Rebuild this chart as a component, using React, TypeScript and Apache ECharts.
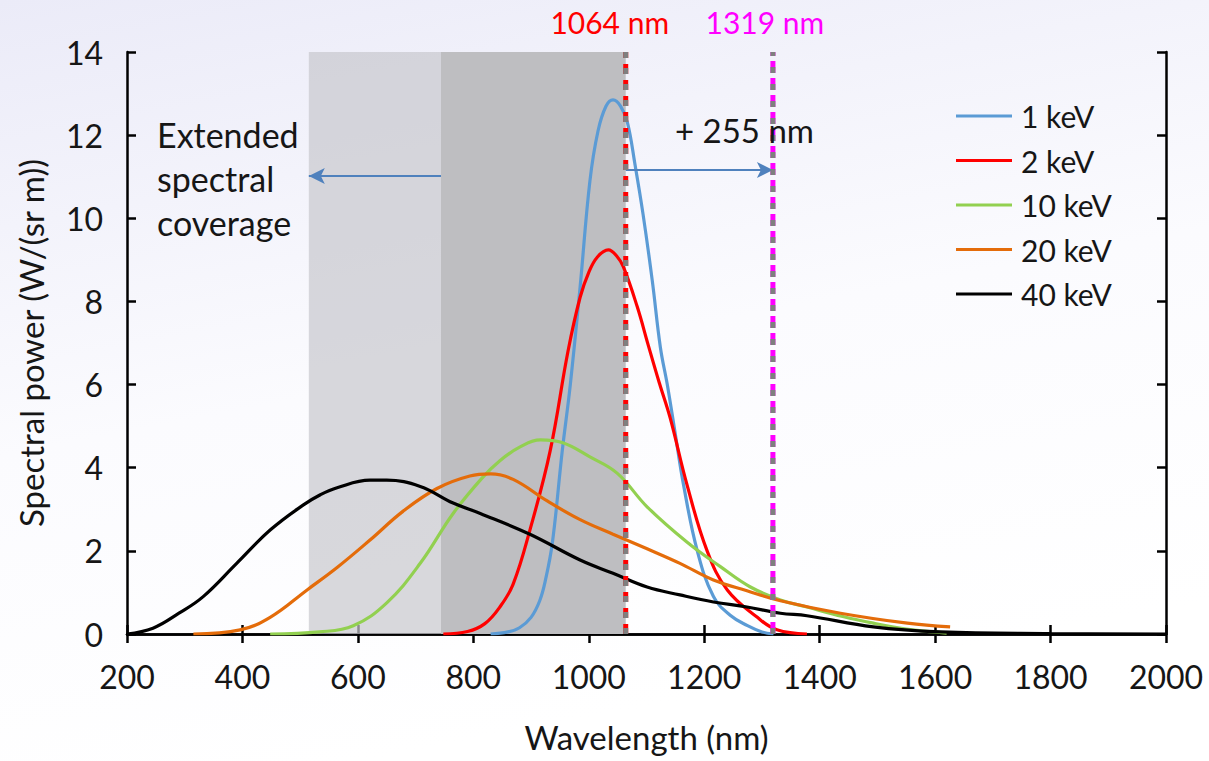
import React, { useEffect, useRef } from "react";
import * as echarts from "echarts";

// Spectral power curves, [wavelength nm, W/(sr m)]
const keV1: number[][] = [[830,0],[860,0.05],[880,0.15],[900,0.4],[915,0.8],[925,1.3],[937,2.2],[954,4.4],[968,6.0],[985,8.35],[1002,10.9],[1016,12.1],[1030,12.7],[1042,12.85],[1055,12.7],[1067,12.3],[1080,11.3],[1094,10.1],[1110,8.5],[1124,6.9],[1136,6.0],[1150,4.8],[1164,3.6],[1188,2.0],[1216,0.9],[1245,0.45],[1275,0.2],[1300,0.05],[1320,0]];
const keV2: number[][] = [[748,0],[790,0.06],[820,0.25],[846,0.65],[869,1.2],[898,2.5],[933,4.4],[964,6.8],[985,8.1],[1000,8.7],[1015,9.07],[1034,9.24],[1048,9.1],[1060,8.83],[1084,7.87],[1103,6.95],[1122,6.05],[1141,5.2],[1170,3.6],[1205,2.0],[1240,1.06],[1292,0.4],[1326,0.1],[1378,0]];
const keV10: number[][] = [[448,0],[534,0.05],[592,0.2],[650,0.75],[708,1.7],[765,2.9],[815,3.75],[846,4.17],[881,4.5],[916,4.67],[955,4.6],[1002,4.26],[1049,3.87],[1101,3.06],[1171,2.2],[1228,1.62],[1280,1.13],[1332,0.82],[1378,0.65],[1440,0.42],[1493,0.26],[1550,0.12],[1597,0.05],[1620,0.02]];
const keV20: number[][] = [[315,0],[396,0.1],[448,0.4],[512,1.06],[564,1.6],[621,2.26],[678,2.95],[737,3.5],[794,3.8],[830,3.85],[869,3.72],[928,3.2],[985,2.75],[1042,2.4],[1101,2.05],[1158,1.7],[1216,1.3],[1274,1.04],[1332,0.8],[1436,0.5],[1552,0.26],[1626,0.17]];
const keV40: number[][] = [[200,0],[245,0.14],[290,0.5],[332,0.9],[390,1.7],[448,2.5],[505,3.1],[535,3.35],[564,3.52],[621,3.7],[650,3.7],[708,3.55],[765,3.15],[812,2.9],[898,2.4],[985,1.78],[1042,1.46],[1101,1.13],[1158,0.94],[1216,0.77],[1274,0.65],[1332,0.5],[1378,0.44],[1493,0.17],[1609,0.05],[1800,0.01],[2000,0]];

const seriesNames = ["1 keV", "2 keV", "10 keV", "20 keV", "40 keV"];
const seriesColors = ["#5b9bd5", "#ff0000", "#92d050", "#e46c0a", "#000000"];
const seriesData = [keV1, keV2, keV10, keV20, keV40];

// Laser wavelength and the shifted one
const laserLine = 1064;
const shiftedLine = 1319;
const shiftLabel = "+ 255 nm";

// Shaded bands: extended coverage, then original coverage up to the laser line
const bandEdges = [515, 744, laserLine];
const coverageArrowY = 11.02;
const shiftArrowY = 11.16;

const FONT = "Lato, 'Open Sans', sans-serif";
const INK = "#161616";

export default function App() {
  const ref = useRef<HTMLDivElement>(null);

  useEffect(() => {
    document.body.style.margin = "0";
    const chart = echarts.init(ref.current!, undefined, { renderer: "svg" });

    const curves = seriesData.map((d, i) => ({
      name: seriesNames[i],
      type: "line",
      data: d,
      smooth: 0.4,
      showSymbol: false,
      lineStyle: { color: seriesColors[i], width: 3.2 },
      itemStyle: { color: seriesColors[i] },
      z: 3,
    }));

    const vline = (x: number, color: string, dash: number[], width: number, z: number) => ({
      type: "line",
      data: [[x, 0], [x, 14]],
      showSymbol: false,
      silent: true,
      lineStyle: { color, width, type: dash },
      z,
    });

    const frameAxis = { lineStyle: { color: "#000", width: 2.5 } };
    const frameTick = { inside: true, length: 9, lineStyle: { color: "#000", width: 2.5 } };

    const option: any = {
      animation: false,
      backgroundColor: {
        type: "linear", x: 0, y: 0, x2: 0.3, y2: 1,
        colorStops: [
          { offset: 0, color: "#ebebf8" },
          { offset: 0.55, color: "#fbfbfe" },
          { offset: 1, color: "#ffffff" },
        ],
      },
      textStyle: { fontFamily: FONT },
      grid: { left: 127, right: 43, top: 52, bottom: 127, containLabel: false },
      legend: {
        data: seriesNames,
        orient: "vertical",
        left: 951,
        top: 96,
        itemWidth: 56,
        itemHeight: 3,
        itemGap: 14.5,
        icon: "rect",
        textStyle: { fontSize: 30, color: INK, fontFamily: FONT, padding: [0, 0, 0, 4] },
      },
      xAxis: [
        {
          type: "value", min: 200, max: 2000, interval: 200,
          name: "Wavelength (nm)", nameLocation: "middle", nameGap: 86,
          nameTextStyle: { fontSize: 33, color: INK, fontFamily: FONT },
          axisLine: frameAxis,
          axisTick: frameTick,
          axisLabel: { fontSize: 32, color: INK, margin: 26, fontFamily: FONT, formatter: (v: number) => String(v) },
          splitLine: { show: false },
        },
        {
          type: "value", min: 200, max: 2000, interval: 200, position: "top",
          axisLine: frameAxis,
          axisTick: frameTick,
          axisLabel: { show: false },
          splitLine: { show: false },
        },
      ],
      yAxis: [
        {
          type: "value", min: 0, max: 14, interval: 2,
          name: "Spectral power (W/(sr m))", nameLocation: "middle", nameGap: 80,
          nameTextStyle: { fontSize: 33, color: INK, fontFamily: FONT },
          axisLine: { show: true, ...frameAxis },
          axisTick: { show: true, ...frameTick },
          axisLabel: { fontSize: 32, color: INK, margin: 24, fontFamily: FONT },
          splitLine: { show: false },
        },
        {
          type: "value", min: 0, max: 14, interval: 2, position: "right",
          axisLine: { show: true, ...frameAxis },
          axisTick: { show: true, ...frameTick },
          axisLabel: { show: false },
          splitLine: { show: false },
        },
      ],
      series: [
        {
          type: "line",
          data: [],
          silent: true,
          z: 1,
          markArea: {
            silent: true,
            data: [
              [{ xAxis: bandEdges[0], itemStyle: { color: "rgba(200,200,205,0.7)" } }, { xAxis: bandEdges[1] }],
              [{ xAxis: bandEdges[1], itemStyle: { color: "#bebec1" } }, { xAxis: bandEdges[2] }],
            ],
          },
          markLine: {
            silent: true,
            symbol: ["none", "arrow"],
            symbolSize: [12, 16],
            lineStyle: { color: "#4f81bd", width: 2, type: "solid" },
            label: { show: false },
            data: [
              [{ coord: [bandEdges[1], coverageArrowY] }, { coord: [bandEdges[0], coverageArrowY] }],
              [{ coord: [laserLine, shiftArrowY] }, { coord: [shiftedLine, shiftArrowY] }],
            ],
          },
        },
        ...curves,
        vline(laserLine, "#ff0000", [10, 6], 5, 4),
        vline(laserLine, "#7f7f7f", [6, 10], 5, 5),
        vline(shiftedLine, "#ff00ff", [12, 5], 5, 4),
        vline(shiftedLine, "#7f7f7f", [6, 11], 5, 5),
      ],
      graphic: [
        {
          id: "coverage", type: "text", left: 157, top: 112, z: 10,
          style: { text: "Extended\nspectral\ncoverage", fontSize: 34, lineHeight: 44, fill: INK, fontFamily: FONT },
        },
        {
          id: "shift", type: "text", left: 675, top: 113, z: 10,
          style: { text: shiftLabel, fontSize: 33, fill: INK, fontFamily: FONT },
        },
      ],
    };

    chart.setOption(option);

    // Wavelength captions above the frame, placed over their lines via the x scale
    const xLaser = chart.convertToPixel({ xAxisIndex: 0 }, laserLine) as number;
    const xShift = chart.convertToPixel({ xAxisIndex: 0 }, shiftedLine) as number;
    chart.setOption({
      graphic: [
        {
          id: "laserCaption", type: "text", x: xLaser - 16, y: 22, z: 10,
          style: { text: laserLine + " nm", fontSize: 30, fill: "#ff0000", fontFamily: FONT, align: "center", verticalAlign: "middle" },
        },
        {
          id: "shiftCaption", type: "text", x: xShift - 8, y: 22, z: 10,
          style: { text: shiftedLine + " nm", fontSize: 30, fill: "#ff00ff", fontFamily: FONT, align: "center", verticalAlign: "middle" },
        },
      ],
    });

    return () => chart.dispose();
  }, []);

  return <div ref={ref} style={{ width: 1209, height: 761 }} />;
}
